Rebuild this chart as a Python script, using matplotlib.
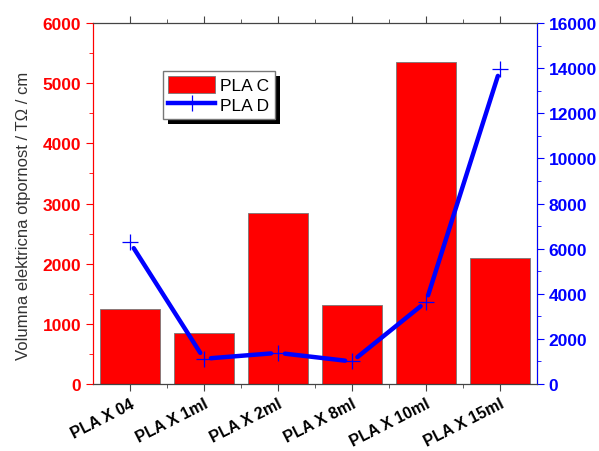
import matplotlib
matplotlib.use("Agg")
import matplotlib.pyplot as plt
from matplotlib.ticker import MultipleLocator
from matplotlib.patches import Rectangle
from matplotlib.lines import Line2D
import numpy as np

# data
samples = ["PLA X 04", "PLA X 1ml", "PLA X 2ml", "PLA X 8ml", "PLA X 10ml", "PLA X 15ml"]
pla_c = [1240, 850, 2840, 1320, 5350, 2100]          # left axis (bars)
pla_d = [6280, 1120, 1380, 1000, 3640, 13950]        # right axis (line)

RED = "#FF0000"
BLUE = "#0000FF"

plt.rcParams["font.family"] = ["Liberation Sans", "DejaVu Sans"]

fig = plt.figure(figsize=(5.99, 4.52), dpi=100)
ax = fig.add_axes([0.1553, 0.1482, 0.7412, 0.7987])
ax2 = ax.twinx()

x = np.arange(len(samples))
bars = ax.bar(x, pla_c, width=0.8, color=RED, edgecolor="#777777",
              linewidth=0.6, label="PLA C", zorder=2)

# Origin-style line: segments stop short of the markers
ax2.plot(x, pla_d, ls="none", color=BLUE, marker="+", ms=11, mew=0.9)
for i in range(len(x) - 1):
    ax2.annotate("", xy=(x[i + 1], pla_d[i + 1]), xytext=(x[i], pla_d[i]),
                 arrowprops=dict(arrowstyle="-", color=BLUE, lw=3.2,
                                 shrinkA=5, shrinkB=5, capstyle="round"))
line = Line2D([], [], color=BLUE, lw=3.2, marker="+", ms=11, mew=0.9)

ax.set_xlim(-0.5, 5.5)
ax.set_ylim(0, 6000)
ax2.set_ylim(0, 16000)

# left axis
ax.yaxis.set_major_locator(MultipleLocator(1000))
ax.yaxis.set_minor_locator(MultipleLocator(500))
ax.tick_params(axis="y", which="both", colors=RED, direction="out")
ax.tick_params(axis="y", which="major", length=5, labelsize=12.5)
ax.tick_params(axis="y", which="minor", length=3)
for t in ax.get_yticklabels():
    t.set_fontweight("bold")
ax.spines["left"].set_color(RED)
ax.set_ylabel("Volumna elektricna otpornost / TΩ / cm", fontsize=12,
              color="#333333")
ax.yaxis.set_label_coords(-0.14, 0.468)

# right axis
ax2.yaxis.set_major_locator(MultipleLocator(2000))
ax2.yaxis.set_minor_locator(MultipleLocator(1000))
ax2.tick_params(axis="y", which="both", colors=BLUE, direction="out")
ax2.tick_params(axis="y", which="major", length=5, labelsize=12.5)
ax2.tick_params(axis="y", which="minor", length=3)
for t in ax2.get_yticklabels():
    t.set_fontweight("bold")
ax2.spines["right"].set_color(BLUE)
ax2.spines["left"].set_color(RED)
ax2.spines["top"].set_color("#444444")
ax2.spines["bottom"].set_color("#444444")

# x axis: ticks at bottom (out) and top (in)
ax.set_xticks(x)
ax.set_xticks(x[:-1] + 0.5, minor=True)
ax.set_xticklabels(samples, rotation=27, ha="right", rotation_mode="anchor",
                   fontsize=11.5, fontweight="bold")
ax.tick_params(axis="x", which="both", top=True, direction="out",
               color="#444444")
ax.tick_params(axis="x", which="major", length=5)
ax.tick_params(axis="x", which="minor", length=3)
ax2.tick_params(axis="x", which="both", top=True, bottom=False, direction="in")

leg = ax2.legend([bars, line], ["PLA C", "PLA D"], loc="upper left",
                 bbox_to_anchor=(0.158, 0.867), borderaxespad=0,
                 fontsize=12.5, fancybox=False, framealpha=1,
                 edgecolor="#777777", handlelength=2.7, handleheight=1.1,
                 borderpad=0.3, labelspacing=0.15, handletextpad=0.3)
leg.set_zorder(6)

# black drop shadow behind the legend box
fig.canvas.draw()
bb = leg.get_window_extent().transformed(fig.transFigure.inverted())
dx, dy = 5 / 599, -5 / 452
ax2.add_patch(Rectangle((bb.x0 + dx, bb.y0 + dy), bb.width, bb.height,
                        transform=fig.transFigure, facecolor="black",
                        edgecolor="none", zorder=5, clip_on=False))

fig.savefig("out.png", dpi=100)
